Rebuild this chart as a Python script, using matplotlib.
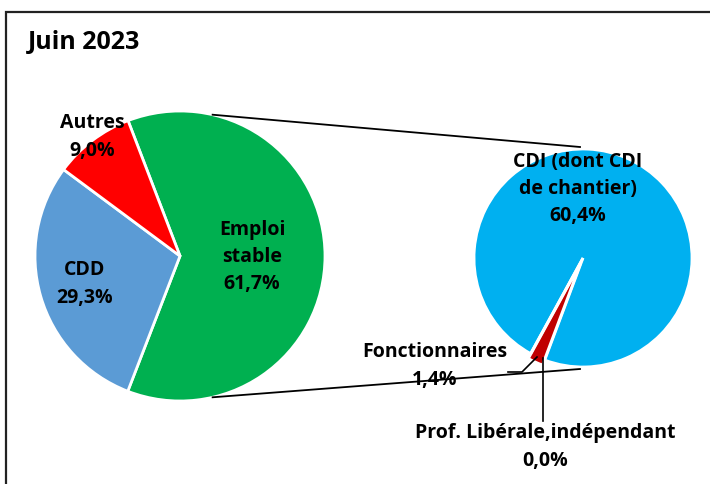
import numpy as np
import matplotlib
matplotlib.use("Agg")
import matplotlib.pyplot as plt
from matplotlib.patches import Rectangle

plt.rcParams['font.family'] = ['Open Sans', 'DejaVu Sans']

# main pie
main_labels = ["Emploi\nstable", "CDD", "Autres"]
main_values = [61.7, 29.3, 9.0]
main_colors = ["#00B050", "#5B9BD5", "#FF0000"]

# secondary pie (emploi stable detail)
sub_labels = ["CDI (dont CDI\nde chantier)", "Fonctionnaires", "Prof. Libérale,indépendant"]
sub_values = [60.4, 1.4, 0.0]
sub_colors = ["#00B0F0", "#C00000", "#7F7F7F"]

W, H = 710, 484
fig = plt.figure(figsize=(W / 100, H / 100), dpi=100)
ax = fig.add_axes([0, 0, 1, 1])

def fmt(v):
    return f"{v:.1f}".replace(".", ",") + "%"

# pixel-based layout (y measured from top)
c1 = (180, H - 256)
r1 = 145
c2 = (583, H - 258)
r2 = 109

ax.pie(main_values, colors=main_colors, startangle=111, counterclock=False,
       center=c1, radius=r1, wedgeprops=dict(edgecolor="white", linewidth=2))

sub_start = -118.7
ax.pie(sub_values, colors=sub_colors, startangle=sub_start, counterclock=False,
       center=c2, radius=r2, explode=[0, 0.05 * r2, 0],
       wedgeprops=dict(edgecolor="white", linewidth=2))

# connector lines between the two pies
for a1, a2 in [(77, 90), (-77, -90)]:
    p1 = (c1[0] + r1 * np.cos(np.radians(a1)), c1[1] + r1 * np.sin(np.radians(a1)))
    p2 = (c2[0] + r2 * np.cos(np.radians(a2)) - 3, c2[1] + (r2 + 2) * np.sin(np.radians(a2)))
    ax.plot([p1[0], p2[0]], [p1[1], p2[1]], color="black", lw=1.3)

fs = 14
ls = 1.5
ax.text(28, H - 42, "Juin 2023", fontsize=18, fontweight="bold", ha="left", va="center")

ax.text(92, H - 137, f"{main_labels[2]}\n{fmt(main_values[2])}", fontsize=fs,
        fontweight="bold", ha="center", va="center", linespacing=ls)
ax.text(85, H - 284, f"{main_labels[1]}\n{fmt(main_values[1])}", fontsize=fs,
        fontweight="bold", ha="center", va="center", linespacing=ls)
ax.text(252, H - 257, f"{main_labels[0]}\n{fmt(main_values[0])}", fontsize=fs,
        fontweight="bold", ha="center", va="center", linespacing=ls)

ax.text(578, H - 189, f"{sub_labels[0]}\n{fmt(sub_values[0])}", fontsize=fs,
        fontweight="bold", ha="center", va="center", linespacing=ls)
ax.text(435, H - 366, f"{sub_labels[1]}\n{fmt(sub_values[1])}", fontsize=fs,
        fontweight="bold", ha="center", va="center", linespacing=ls)
ax.text(545, H - 447, f"{sub_labels[2]}\n{fmt(sub_values[2])}", fontsize=fs,
        fontweight="bold", ha="center", va="center", linespacing=ls)

# leader lines
ax.plot([537, 522, 508], [H - 357, H - 372, H - 372], color="black", lw=1.2)
ax.plot([543, 543], [H - 358, H - 421], color="black", lw=1.2)

ax.set_xlim(0, W)
ax.set_ylim(0, H)
ax.set_aspect("auto")
ax.axis("off")

fig.patches.append(Rectangle((6 / W, -0.1), 1.1, (H - 12) / H + 0.1, transform=fig.transFigure,
                             fill=False, edgecolor="#222222", lw=1.6))

fig.savefig("out.png", dpi=100, facecolor="white")
